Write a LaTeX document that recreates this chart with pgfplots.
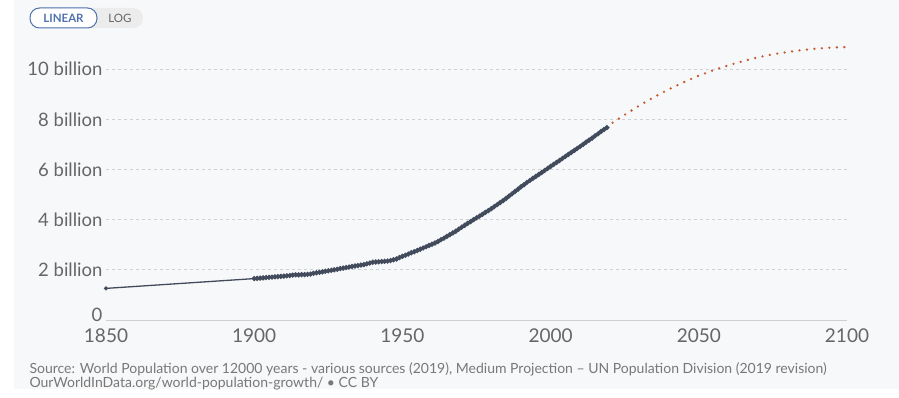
\documentclass[border=0pt]{standalone}
\usepackage{pgfplots}
\pgfplotsset{compat=1.18}
\usepackage{fontspec}
\setmainfont{Lato}
\definecolor{bgc}{RGB}{247,248,250}
\definecolor{linec}{RGB}{66,75,92}
\definecolor{projc}{RGB}{200,90,50}
\definecolor{tickc}{RGB}{102,102,102}
\definecolor{gridc}{RGB}{205,208,212}
\definecolor{srcc}{RGB}{120,120,120}
\definecolor{btnblue}{RGB}{80,115,175}
\pgfplotstableread{
year pop
1850 1.26
1900 1.65
}\early
\pgfplotstableread{
year pop
1900 1.65
1901 1.66
1902 1.67
1903 1.68
1904 1.69
1905 1.70
1906 1.71
1907 1.72
1908 1.73
1909 1.74
1910 1.75
1911 1.76
1912 1.77
1913 1.79
1914 1.80
1915 1.80
1916 1.81
1917 1.81
1918 1.82
1919 1.83
1920 1.86
1921 1.88
1922 1.90
1923 1.92
1924 1.94
1925 1.96
1926 1.98
1927 2.00
1928 2.02
1929 2.05
1930 2.07
1931 2.09
1932 2.11
1933 2.13
1934 2.15
1935 2.17
1936 2.19
1937 2.21
1938 2.24
1939 2.27
1940 2.30
1941 2.31
1942 2.32
1943 2.33
1944 2.34
1945 2.35
1946 2.37
1947 2.40
1948 2.43
1949 2.49
1950 2.54
1951 2.58
1952 2.63
1953 2.68
1954 2.72
1955 2.77
1956 2.82
1957 2.87
1958 2.92
1959 2.97
1960 3.02
1961 3.07
1962 3.13
1963 3.20
1964 3.26
1965 3.33
1966 3.40
1967 3.47
1968 3.54
1969 3.62
1970 3.70
1971 3.77
1972 3.85
1973 3.92
1974 4.00
1975 4.07
1976 4.14
1977 4.21
1978 4.29
1979 4.36
1980 4.44
1981 4.52
1982 4.60
1983 4.68
1984 4.76
1985 4.85
1986 4.94
1987 5.03
1988 5.12
1989 5.21
1990 5.31
1991 5.39
1992 5.48
1993 5.56
1994 5.64
1995 5.72
1996 5.80
1997 5.88
1998 5.96
1999 6.04
2000 6.12
2001 6.20
2002 6.28
2003 6.36
2004 6.44
2005 6.52
2006 6.60
2007 6.68
2008 6.76
2009 6.84
2010 6.92
2011 7.00
2012 7.09
2013 7.17
2014 7.25
2015 7.34
2016 7.42
2017 7.51
2018 7.59
2019 7.67
}\hist
\pgfplotstableread{
year pop
2019 7.67
2020 7.79
2025 8.18
2030 8.55
2035 8.89
2040 9.20
2045 9.48
2050 9.74
2055 9.96
2060 10.15
2065 10.32
2070 10.47
2075 10.59
2080 10.68
2085 10.76
2090 10.82
2095 10.86
2100 10.88
}\proj
\begin{document}
\begin{tikzpicture}
\path[use as bounding box] (0pt,0pt) rectangle (899pt,397pt);
\fill[white] (0pt,0pt) rectangle (899pt,397pt);
\fill[bgc] (14pt,8pt) rectangle (899pt,397pt);
% buttons
\fill[gray!15, rounded corners=10pt] (30pt,369pt) rectangle (143pt,389pt);
\fill[white, rounded corners=9.5pt] (30.5pt,369.5pt) -- (30.5pt,388.5pt) -- (96.5pt,388.5pt) -- (96.5pt,369.5pt) -- cycle;
\draw[btnblue, line width=1pt, rounded corners=9.5pt] (30pt,369pt) -- (30pt,389pt) -- (97pt,389pt) -- (97pt,369pt) -- cycle;
\node[font=\fontsize{11.5pt}{12pt}\selectfont\bfseries, text=btnblue] at (63.5pt,379pt) {LINEAR};
\node[font=\fontsize{11.5pt}{12pt}\selectfont, text=tickc] at (120pt,379pt) {LOG};
\begin{axis}[
  at={(106pt,77pt)}, anchor=south west,
  scale only axis, width=741pt, height=276pt,
  xmin=1850, xmax=2100, ymin=0, ymax=11,
  axis y line=none, axis x line*=bottom,
  x axis line style={draw=gridc, line width=0.8pt, -},
  xtick={1850,1900,1950,2000,2050,2100},
  xticklabels={1850,1900,1950,2000,2050,2100},
  major tick length=0pt,
  xticklabel style={font=\fontsize{19pt}{21pt}\selectfont, text=tickc, yshift=-5pt},
  clip=false,
]
\foreach \v/\l in {2/2 billion,4/4 billion,6/6 billion,8/8 billion,10/10 billion}{
  \edef\tmp{\noexpand\draw[gridc, line width=0.8pt, dash pattern=on 3pt off 3pt] (axis cs:1850,\v) -- (axis cs:2100,\v);
  \noexpand\node[anchor=east, font=\noexpand\fontsize{18.5pt}{20pt}\noexpand\selectfont, text=tickc] at (axis cs:1850,\v) {\l};}
  \tmp
}
\node[anchor=east, font=\fontsize{18.5pt}{20pt}\selectfont, text=tickc] at (axis cs:1850,0.2) {0};
\addplot[linec, line width=1.3pt, mark=*, mark size=1.4pt, mark options={fill=linec, draw=linec}, mark indices={1}] table[x=year,y=pop] {\early};
\addplot[projc, line width=2.6pt, line cap=round, dash pattern=on 0pt off 7.5pt] table[x=year,y=pop] {\proj};
\addplot[linec, line width=1.6pt, mark=*, mark size=1.7pt, mark options={fill=linec, draw=linec}] table[x=year,y=pop] {\hist};
\end{axis}
\node[anchor=west, font=\fontsize{14pt}{15pt}\selectfont, text=srcc] at (26pt,28pt) {Source: World Population over 12000 years - various sources (2019), Medium Projection – UN Population Division (2019 revision)};
\node[anchor=west, font=\fontsize{14pt}{15pt}\selectfont, text=srcc] at (26pt,13pt) {OurWorldInData.org/world-population-growth/ • CC BY};
\end{tikzpicture}
\end{document}
